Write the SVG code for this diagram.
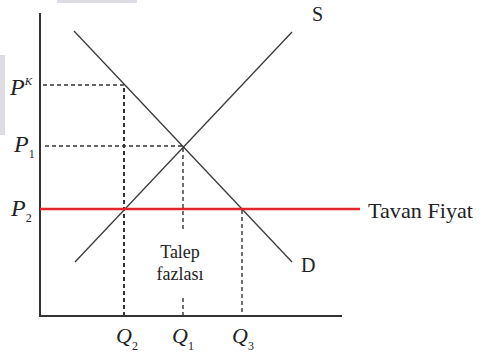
<svg xmlns="http://www.w3.org/2000/svg" width="485" height="360" viewBox="0 0 485 360">
<style>
.ax{stroke:#333;stroke-width:2;fill:none}
.cv{stroke:#3a3a3a;stroke-width:1.3;fill:none}
.dash{stroke:#333;stroke-width:1.4;stroke-dasharray:4 3;fill:none}
.dash2{stroke:#333;stroke-width:2;stroke-dasharray:4 3;fill:none}
.red{stroke:#e3262b;stroke-width:2.4;fill:none}
.t{font-family:"Liberation Serif","Times New Roman",serif;fill:#222}
.it{font-family:"Liberation Serif","Times New Roman",serif;font-style:italic;fill:#222}
.sub{font-style:normal;font-size:12px}
.wm{fill:#dcdce2}
</style>
<rect width="485" height="360" fill="#fff"/>
<g id="watermark">
<rect class="wm" x="57" y="0" width="80" height="3"/>
<rect class="wm" x="0" y="55" width="5" height="80"/>
</g>
<g id="axes">
<line class="ax" x1="40" y1="13" x2="40" y2="317"/>
<line class="ax" x1="39" y1="316" x2="342" y2="316"/>
</g>
<g id="connectors">
<line class="dash" x1="43" y1="85" x2="124" y2="85"/>
<line class="dash" x1="45" y1="146" x2="183" y2="146"/>
<line class="dash2" x1="124" y1="88" x2="124" y2="316"/>
<line class="dash" x1="183" y1="148" x2="183" y2="232"/>
<line class="dash" x1="183" y1="298" x2="183" y2="316"/>
<line class="dash" x1="242" y1="210" x2="242" y2="316"/>
</g>
<g id="demand"><line class="cv" x1="74" y1="31" x2="292" y2="262"/></g>
<g id="supply"><line class="cv" x1="75" y1="262" x2="292" y2="32"/></g>
<g id="ceiling"><line class="red" x1="40" y1="209" x2="360" y2="209"/></g>
<g id="labels">
<text class="t" x="312" y="21" font-size="20">S</text>
<text class="t" x="301" y="272" font-size="20">D</text>
<text class="t" x="368" y="218" font-size="22" textLength="105" lengthAdjust="spacingAndGlyphs">Tavan Fiyat</text>
<text class="t" x="180" y="258" font-size="18" text-anchor="middle">Talep</text>
<text class="t" x="180" y="280" font-size="18" text-anchor="middle">fazlası</text>
<text class="it" x="10" y="95" font-size="24">P<tspan font-size="11" dy="-10">K</tspan></text>
<text class="it" x="14" y="152" font-size="24">P<tspan class="sub" dy="6">1</tspan></text>
<text class="it" x="11" y="216" font-size="24">P<tspan class="sub" dy="6">2</tspan></text>
<text class="it" x="116" y="343" font-size="22">Q<tspan class="sub" dy="7">2</tspan></text>
<text class="it" x="172" y="343" font-size="22">Q<tspan class="sub" dy="7">1</tspan></text>
<text class="it" x="232" y="343" font-size="22">Q<tspan class="sub" dy="7">3</tspan></text>
</g>
</svg>
